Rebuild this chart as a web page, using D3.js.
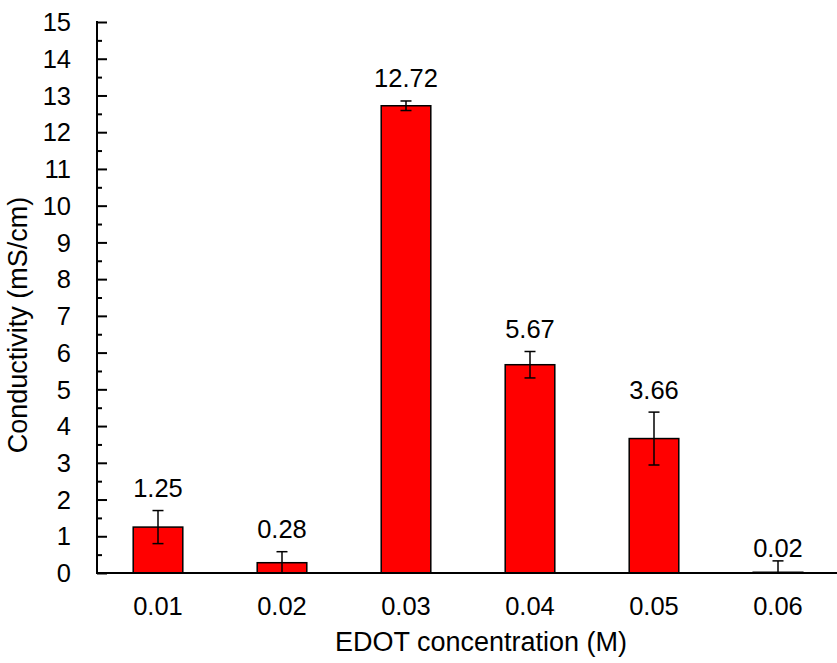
<!DOCTYPE html>
<html>
<head>
<meta charset="utf-8">
<script src="https://cdn.jsdelivr.net/npm/d3@7"></script>
<style>
  html, body { margin: 0; padding: 0; background: #fff; }
  svg { display: block; font-family: "Liberation Sans", Arial, sans-serif; }
</style>
</head>
<body>
<svg id="chart" width="837" height="663"></svg>
<script>
// EDOT concentration (M) vs conductivity (mS/cm)
const categories = ["0.01", "0.02", "0.03", "0.04", "0.05", "0.06"];
const conductivity = [1.25, 0.28, 12.72, 5.67, 3.66, 0.02];
const errors = [0.45, 0.30, 0.13, 0.36, 0.72, 0.31];
const yMajorTicks = [0, 1, 2, 3, 4, 5, 6, 7, 8, 9, 10, 11, 12, 13, 14, 15];
const yMinorTicks = [0.5, 1.5, 2.5, 3.5, 4.5, 5.5, 6.5, 7.5, 8.5, 9.5, 10.5, 11.5, 12.5, 13.5, 14.5];

const svg = d3.select("#chart");
const plotLeft = 97, plotRight = 837, plotTop = 22, plotBottom = 573;

const x = d3.scaleBand()
  .domain(categories)
  .range([96, 840])
  .paddingInner(0.6)
  .paddingOuter(0.3);

const y = d3.scaleLinear().domain([0, 15]).range([plotBottom, plotTop]);

const data = categories.map((c, i) => ({ c, v: conductivity[i], e: errors[i] }));

// bars
svg.append("g").selectAll("rect")
  .data(data).join("rect")
  .attr("x", d => x(d.c))
  .attr("width", x.bandwidth())
  .attr("y", d => y(d.v))
  .attr("height", d => y(0) - y(d.v))
  .attr("fill", "#ff0000")
  .attr("stroke", "#000")
  .attr("stroke-width", 1.5);

// error bars (clipped at zero)
const eb = svg.append("g").attr("stroke", "#000").attr("stroke-width", 1.5);
data.forEach(d => {
  const cx = x(d.c) + x.bandwidth() / 2;
  const lo = Math.max(0, d.v - d.e), hi = d.v + d.e;
  eb.append("line").attr("x1", cx).attr("x2", cx).attr("y1", y(lo)).attr("y2", y(hi));
  eb.append("line").attr("x1", cx - 5.5).attr("x2", cx + 5.5).attr("y1", y(hi)).attr("y2", y(hi));
  if (d.v - d.e > 0) {
    eb.append("line").attr("x1", cx - 5.5).attr("x2", cx + 5.5).attr("y1", y(lo)).attr("y2", y(lo));
  }
});

// value labels
svg.append("g").selectAll("text")
  .data(data).join("text")
  .attr("x", d => x(d.c) + x.bandwidth() / 2)
  .attr("y", d => y(d.v + d.e) - (d.v < 0.1 ? 4 : 13.5))
  .attr("text-anchor", "middle")
  .attr("font-size", 25.5)
  .attr("fill", "#000")
  .text(d => d.v.toFixed(2));

// y axis: major and minor ticks pointing inward
const yAxis = svg.append("g").attr("transform", `translate(${plotLeft},0)`);
yAxis.call(d3.axisRight(y).tickValues(yMajorTicks).tickSize(10).tickFormat(""))
  .call(g => g.select(".domain").remove());
yAxis.append("g").call(d3.axisRight(y).tickValues(yMinorTicks).tickSize(5).tickFormat(""))
  .call(g => g.select(".domain").remove());
yAxis.selectAll(".tick line").attr("stroke", "#000").attr("stroke-width", 2);
yAxis.append("line").attr("x1", 0).attr("x2", 0).attr("y1", plotTop - 1).attr("y2", plotBottom)
  .attr("stroke", "#000").attr("stroke-width", 2);

svg.append("g").selectAll("text")
  .data(yMajorTicks).join("text")
  .attr("x", 71)
  .attr("y", d => y(d))
  .attr("dy", "0.36em")
  .attr("text-anchor", "end")
  .attr("font-size", 25.5)
  .attr("fill", "#000")
  .text(d => d);

// x axis
svg.append("line").attr("x1", plotLeft - 1).attr("x2", plotRight).attr("y1", plotBottom).attr("y2", plotBottom)
  .attr("stroke", "#000").attr("stroke-width", 2);

svg.append("g").selectAll("text")
  .data(categories).join("text")
  .attr("x", d => x(d) + x.bandwidth() / 2)
  .attr("y", 615)
  .attr("text-anchor", "middle")
  .attr("font-size", 25.5)
  .attr("fill", "#000")
  .text(d => d);

// axis titles
svg.append("text")
  .attr("x", 481).attr("y", 651)
  .attr("text-anchor", "middle")
  .attr("font-size", 27)
  .attr("fill", "#000")
  .text("EDOT concentration (M)");

svg.append("text")
  .attr("transform", "translate(27,325) rotate(-90)")
  .attr("text-anchor", "middle")
  .attr("font-size", 27)
  .attr("fill", "#000")
  .text("Conductivity (mS/cm)");
</script>
</body>
</html>
